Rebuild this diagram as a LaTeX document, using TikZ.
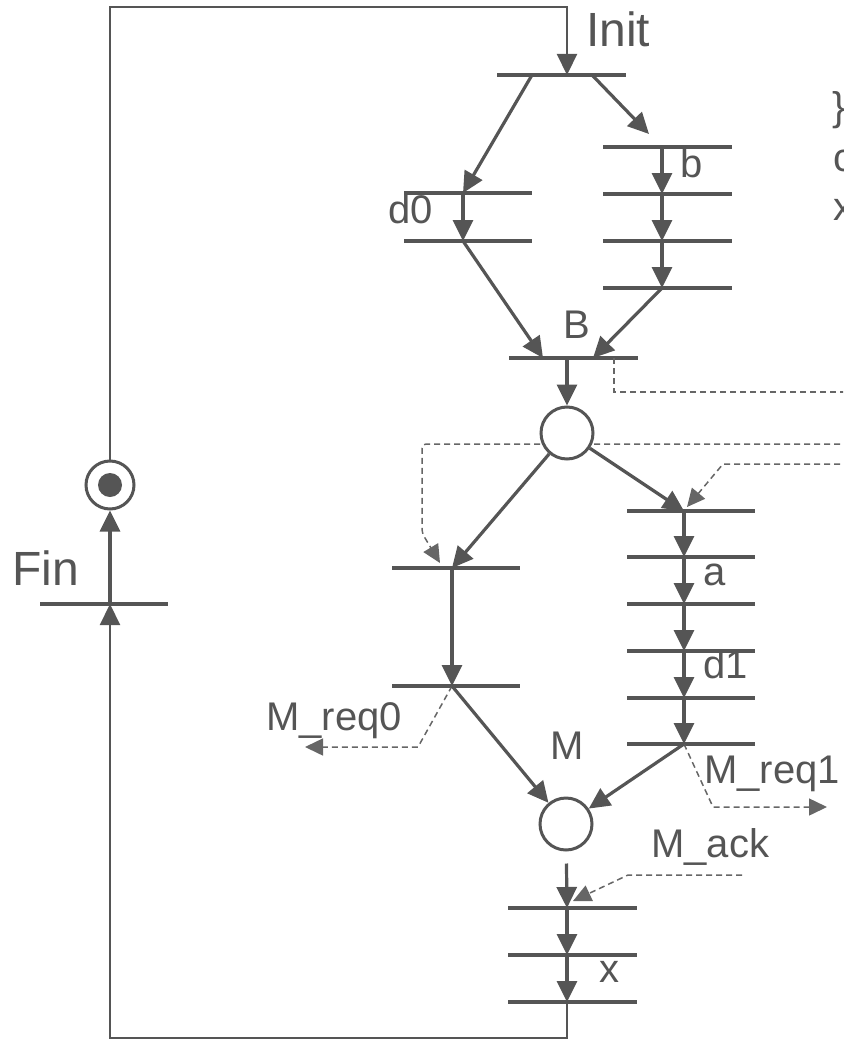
\documentclass[tikz,border=0pt]{standalone}
\usepackage{fontspec}
\setmainfont{Liberation Sans}
\usetikzlibrary{arrows.meta}
\definecolor{ink}{HTML}{555555}
\definecolor{dashcol}{HTML}{666666}
\begin{document}
\begin{tikzpicture}[x=1pt,y=-1pt,
  line/.style={draw=ink, line width=3.2pt},
  arr/.style={line, -{Triangle[length=21pt,width=20pt]}},
  looparr/.style={draw=ink, line width=2.2pt, -{Triangle[length=21pt,width=20pt]}},
  barline/.style={draw=ink, line width=3.2pt},
  dsh/.style={draw=dashcol, line width=1.5pt, dash pattern=on 6pt off 4pt},
  darr/.style={dsh, -{Triangle[length=18pt,width=17pt]}},
  place/.style={circle, draw=ink, line width=3pt, fill=white, minimum size=52pt, inner sep=0pt},
  lbl/.style={text=ink, font=\fontsize{40}{48}\selectfont, anchor=base west, inner sep=0pt},
  biglbl/.style={lbl, font=\fontsize{48}{56}\selectfont}
]
\useasboundingbox (0,0) rectangle (843,1041);
\clip (0,0) rectangle (843,1041);

% junction coordinates
\coordinate (init) at (567,75);
\coordinate (d0a) at (463,193);
\coordinate (d0b) at (463,241);
\coordinate (b1) at (662,147);
\coordinate (b2) at (662,194);
\coordinate (b3) at (662,241);
\coordinate (b4) at (662,288);
\coordinate (Bt) at (567,358);
\coordinate (L1) at (452,568);
\coordinate (L2) at (452,686);
\coordinate (R1) at (684,511);
\coordinate (R2) at (684,557);
\coordinate (R3) at (684,604);
\coordinate (R4) at (684,651);
\coordinate (R5) at (684,698);
\coordinate (R6) at (684,744);
\coordinate (X1) at (567,908);
\coordinate (X2) at (567,955);
\coordinate (X3) at (567,1002);
\coordinate (fin) at (110,604);
\coordinate (topL) at (110,7);
\coordinate (topR) at (567,7);
\coordinate (botR) at (567,1038);
\coordinate (botL) at (110,1038);
\coordinate (bfree) at (649,134);
\coordinate (e1) at (850,392);
\coordinate (e2) at (850,444);
\coordinate (e3) at (850,464);
\coordinate (mr0) at (305,747);
\coordinate (mr1) at (827,807);
\coordinate (ack) at (742,875);

% transition bars
\draw[barline] ([xshift=-70pt]init) -- ([xshift=59pt]init);
\foreach \c in {d0a,d0b} \draw[barline] ([xshift=-59pt]\c) -- ([xshift=69pt]\c);
\foreach \c in {b1,b2,b3,b4} \draw[barline] ([xshift=-59pt]\c) -- ([xshift=70pt]\c);
\draw[barline] ([xshift=-58pt]Bt) -- ([xshift=71pt]Bt);
\foreach \c in {L1,L2} \draw[barline] ([xshift=-60pt]\c) -- ([xshift=68pt]\c);
\foreach \c in {R1,R2,R3,R4,R5,R6} \draw[barline] ([xshift=-57pt]\c) -- ([xshift=71pt]\c);
\foreach \c in {X1,X2,X3} \draw[barline] ([xshift=-59pt]\c) -- ([xshift=70pt]\c);
\draw[barline] ([xshift=-70pt]fin) -- ([xshift=58pt]fin);

% dashed signal lines
\draw[dsh] ([xshift=47pt]Bt) -- ++(0,34) -- (e1);
\draw[darr, rounded corners=4pt] (e2) -- (422,444) -- (422,533) -- ([xshift=-12pt,yshift=5pt]L1);
\draw[darr] (e3) -- (723,464) -- ([xshift=3pt,yshift=4pt]R1);
\draw[darr] (L2) -- (418,747) -- (mr0);
\draw[darr] (R6) -- (713,807) -- (mr1);
\draw[darr] (ack) -- (628,875) -- ([xshift=6pt,yshift=7pt]X1);

% places
\node[place] (P1) at (567,433) {};
\node[place] (P2) at (566,824) {};
\node[place, minimum size=48pt] (P0) at (110,485) {};
\fill[ink] (P0.center) circle (12pt);

% loop
\draw[looparr] (P0.north) -- (topL) -- (topR) -- (init);
\draw[looparr] (X3) -- (botR) -- (botL) -- (fin);
\draw[arr] (fin) -- (P0);

% top part
\draw[arr] ([xshift=-35pt]init) -- (d0a);
\draw[arr] ([xshift=25pt]init) -- (bfree);
\draw[arr] (d0a) -- (d0b);
\draw[arr] (b1) -- (b2);
\draw[arr] (b2) -- (b3);
\draw[arr] (b3) -- (b4);
\draw[arr] (d0b) -- ([xshift=-24pt]Bt);
\draw[arr] (b4) -- ([xshift=26pt]Bt);
\draw[arr] (Bt) -- (P1);

% middle
\draw[arr] (P1) -- (L1);
\draw[arr] (P1) -- (R1);
\draw[arr] (L1) -- (L2);
\draw[arr] (R1) -- (R2);
\draw[arr] (R2) -- (R3);
\draw[arr] (R3) -- (R4);
\draw[arr] (R4) -- (R5);
\draw[arr] (R5) -- (R6);
\draw[arr] (L2) -- (P2);
\draw[arr] (R6) -- (P2);

% bottom
\draw[arr, shorten <=12pt] (P2) -- (X1);
\draw[arr] (X1) -- (X2);
\draw[arr] (X2) -- (X3);

% labels
\node[biglbl] (tInit) at (586,47) {Init};
\node[biglbl] (tFin) at (12,585) {Fin};
\node[lbl] (td0) at (388,223) {d0};
\node[lbl] (tb) at (680,177) {b};
\node[lbl] (tB) at (563,338) {B};
\node[lbl] (ta) at (703,585) {a};
\node[lbl] (td1) at (703,678) {d1};
\node[lbl] (tM) at (550,759) {M};
\node[lbl] (tmr0) at (266,730) {M\_req0};
\node[lbl] (tmr1) at (704,783) {M\_req1};
\node[lbl] (tack) at (651,857) {M\_ack};
\node[lbl] (tx) at (599,982) {x};
\node[lbl] (tbr) at (832,120) {\}};
\node[lbl] (tc) at (833,171) {c};
\node[lbl] (tx2) at (833,220) {x};
\end{tikzpicture}
\end{document}
